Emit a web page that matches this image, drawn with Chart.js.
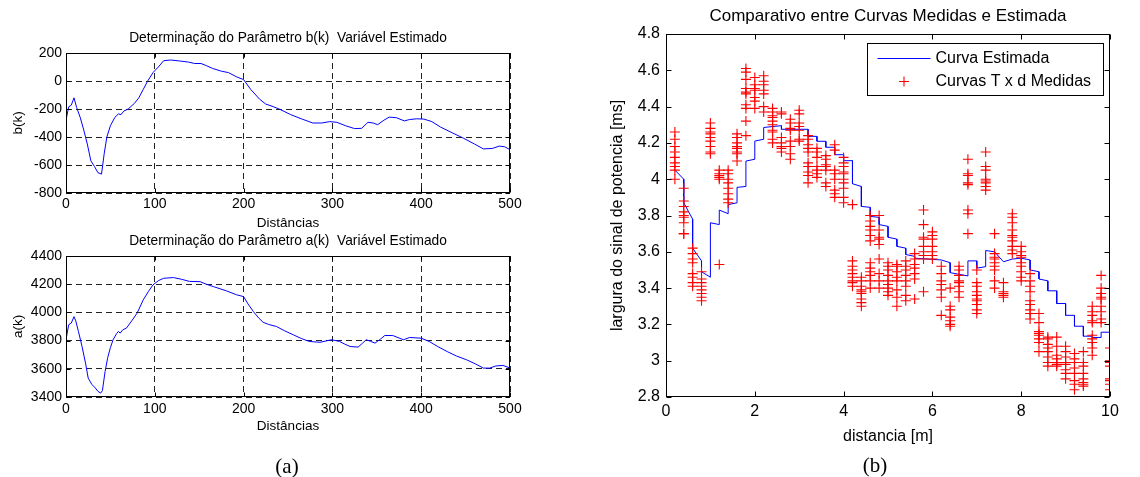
<!DOCTYPE html>
<html>
<head>
<meta charset="utf-8">
<script src="https://cdn.jsdelivr.net/npm/chart.js@4.4.0/dist/chart.umd.min.js"></script>
<style>
body { margin: 0; background: #fff; }
#wrap { position: relative; width: 1140px; height: 477px; overflow: hidden; }
#wrap canvas { position: absolute; left: 0; top: 0; }
.cap { position: absolute; width: 100px; text-align: center; font-family: "Liberation Serif", "Times New Roman", serif; font-size: 21px; line-height: 24px; color: #000; }
</style>
</head>
<body>
<div id="wrap">
  <canvas id="chartB" width="1140" height="477"></canvas>
  <canvas id="chartA" width="1140" height="477"></canvas>
  <canvas id="chartM" width="1140" height="477"></canvas>
  <div class="cap" style="left:237px;top:454px">(a)</div>
  <div class="cap" style="left:825px;top:453px">(b)</div>
</div>
<script>
// tick labels
const distTicks = [0, 100, 200, 300, 400, 500];
const bTicks = [-800, -600, -400, -200, 0, 200];
const aTicks = [3400, 3600, 3800, 4000, 4200, 4400];
const mTicksX = [0, 2, 4, 6, 8, 10];
const mTicksY = [2.8, 3, 3.2, 3.4, 3.6, 3.8, 4, 4.2, 4.4, 4.6, 4.8];

// b(k) estimate
const bDist = [0, 3, 6, 9, 12, 16, 20, 24, 28, 32, 36, 40, 43, 46, 50, 55, 59, 62, 65, 70, 77, 82, 87, 92, 98, 104, 110, 118, 128, 138, 145, 152, 158, 165, 175, 183, 192, 200, 208, 218, 225, 232, 240, 253, 265, 278, 288, 297, 305, 315, 325, 333, 340, 346, 351, 358, 364, 372, 381, 387, 395, 403, 412, 422, 435, 448, 460, 470, 480, 488, 494, 500];
const bVals = [-280, -185, -172, -120, -190, -260, -350, -450, -570, -610, -655, -665, -520, -400, -320, -260, -235, -240, -215, -200, -160, -120, -60, 0, 60, 100, 145, 150, 143, 135, 125, 125, 110, 90, 70, 60, 30, 10, -60, -130, -165, -180, -200, -240, -270, -300, -300, -290, -295, -320, -340, -338, -295, -300, -312, -280, -258, -262, -285, -275, -270, -272, -290, -330, -370, -410, -450, -485, -482, -465, -470, -490];

// a(k) estimate
const aDist = [0, 3, 6, 9, 11, 14, 18, 22, 25, 29, 33, 36, 39, 41, 44, 47, 50, 53, 57, 59, 61, 64, 68, 74, 80, 87, 93, 98, 104, 110, 121, 130, 139, 151, 158, 166, 181, 192, 200, 205, 211, 217, 222, 228, 237, 246, 256, 265, 274, 286, 299, 308, 314, 320, 329, 334, 338, 343, 348, 354, 359, 368, 380, 387, 400, 409, 418, 430, 440, 451, 461, 470, 477, 484, 492, 500];
const aVals = [3806, 3912, 3925, 3970, 3940, 3865, 3760, 3640, 3534, 3490, 3464, 3440, 3428, 3445, 3580, 3680, 3750, 3806, 3850, 3865, 3853, 3877, 3888, 3940, 3994, 4089, 4150, 4195, 4225, 4242, 4247, 4235, 4220, 4218, 4200, 4183, 4152, 4125, 4112, 4060, 4006, 3960, 3930, 3915, 3900, 3870, 3841, 3815, 3794, 3788, 3806, 3794, 3775, 3758, 3754, 3782, 3806, 3795, 3782, 3810, 3836, 3836, 3806, 3822, 3817, 3794, 3760, 3720, 3690, 3664, 3635, 3605, 3605, 3620, 3624, 3606];

// measured T x d points, one list per distance
const measDist = [0.2, 0.4, 0.6, 0.8, 1.0, 1.2, 1.4, 1.6, 1.8, 2.0, 2.2, 2.4, 2.6, 2.8, 3.0, 3.2, 3.4, 3.6, 3.8, 4.0, 4.2, 4.4, 4.6, 4.8, 5.0, 5.2, 5.4, 5.6, 5.8, 6.0, 6.2, 6.4, 6.6, 6.8, 7.0, 7.2, 7.4, 7.6, 7.8, 8.0, 8.2, 8.4, 8.6, 8.8, 9.0, 9.2, 9.4, 9.6, 9.8, 10.0];
const measVals = [
  [4.26, 4.22, 4.18, 4.15, 4.12, 4.09, 4.07, 4.05, 4.0],
  [3.95, 3.88, 3.85, 3.82, 3.80, 3.79, 3.76, 3.70, 3.70],
  [3.62, 3.59, 3.56, 3.54, 3.48, 3.46, 3.43, 3.41],
  [3.49, 3.45, 3.43, 3.41, 3.39, 3.37, 3.35, 3.33],
  [4.31, 4.28, 4.26, 4.25, 4.23, 4.21, 4.18, 4.15, 4.14],
  [4.05, 4.03, 4.02, 4.01, 4.0, 3.53],
  [4.05, 4.03, 4.0, 3.98, 3.95, 3.92, 3.89, 3.87],
  [4.25, 4.23, 4.2, 4.18, 4.17, 4.15, 4.14, 4.1],
  [4.61, 4.59, 4.55, 4.5, 4.48, 4.47, 4.41, 4.39, 4.32, 4.24],
  [4.56, 4.52, 4.5, 4.49, 4.45, 4.43, 4.39],
  [4.57, 4.54, 4.52, 4.49, 4.47, 4.4, 4.37],
  [4.39, 4.37, 4.35, 4.34, 4.32, 4.3, 4.27, 4.26, 4.22, 4.2],
  [4.37, 4.36, 4.23, 4.2, 4.18, 4.17, 4.15],
  [4.33, 4.31, 4.28, 4.27, 4.21, 4.18, 4.14, 4.11],
  [4.38, 4.36, 4.31, 4.29, 4.27, 4.22, 4.21],
  [4.24, 4.22, 4.19, 4.17, 4.15, 4.09, 4.07, 4.04, 4.02, 3.98],
  [4.17, 4.15, 4.12, 4.07, 4.05, 4.03, 4.01],
  [4.13, 4.11, 4.08, 4.07, 4.05, 3.98, 3.96],
  [4.19, 4.16, 4.05, 4.03, 4.0, 3.94, 3.92, 3.9],
  [4.12, 4.09, 4.07, 4.04, 4.03, 4.0, 3.98, 3.95, 3.9, 3.87],
  [3.86, 3.55, 3.52, 3.5, 3.48, 3.46, 3.44, 3.43, 3.41],
  [3.46, 3.44, 3.41, 3.39, 3.38, 3.37, 3.34, 3.32, 3.3],
  [3.8, 3.77, 3.74, 3.72, 3.69, 3.66, 3.54, 3.51, 3.49, 3.47, 3.44, 3.4],
  [3.8, 3.72, 3.68, 3.67, 3.64, 3.56, 3.48, 3.44, 3.4],
  [3.54, 3.52, 3.5, 3.47, 3.44, 3.42, 3.4, 3.38, 3.36],
  [3.53, 3.52, 3.49, 3.46, 3.44, 3.39, 3.35, 3.3],
  [3.55, 3.52, 3.5, 3.47, 3.44, 3.41, 3.36, 3.33],
  [3.59, 3.56, 3.53, 3.51, 3.48, 3.45, 3.34],
  [3.83, 3.75, 3.68, 3.67, 3.63, 3.6, 3.58, 3.56, 3.38],
  [3.71, 3.69, 3.67, 3.63, 3.6, 3.58, 3.56],
  [3.52, 3.48, 3.44, 3.42, 3.39, 3.35, 3.25],
  [3.4, 3.3, 3.28, 3.24, 3.22, 3.2, 3.19],
  [3.52, 3.5, 3.47, 3.44, 3.43, 3.41, 3.38, 3.35],
  [4.11, 4.03, 4.02, 3.98, 3.97, 3.83, 3.81, 3.7],
  [3.5, 3.43, 3.41, 3.38, 3.36, 3.34, 3.33, 3.31, 3.28, 3.26],
  [4.15, 4.07, 4.05, 4.0, 3.99, 3.98, 3.96, 3.94],
  [3.7, 3.59, 3.57, 3.56, 3.54, 3.52, 3.5, 3.44, 3.4],
  [3.43, 3.38, 3.37, 3.36, 3.35],
  [3.81, 3.79, 3.76, 3.72, 3.69, 3.68, 3.66, 3.63, 3.61, 3.59],
  [3.63, 3.6, 3.58, 3.57, 3.54, 3.52, 3.49, 3.46, 3.44],
  [3.48, 3.44, 3.41, 3.38, 3.33, 3.31, 3.28, 3.26, 3.23],
  [3.26, 3.21, 3.16, 3.15, 3.14, 3.12, 3.1, 3.05],
  [3.13, 3.12, 3.09, 3.07, 3.05, 3.02, 2.99, 2.97],
  [3.13, 3.08, 3.03, 3.01, 2.99, 2.98, 2.97],
  [3.08, 3.05, 3.02, 2.99, 2.98, 2.95, 2.93, 2.9],
  [3.04, 3.01, 2.99, 2.96, 2.93, 2.89, 2.87, 2.84],
  [3.05, 2.99, 2.97, 2.93, 2.9, 2.88, 2.87, 2.86],
  [3.3, 3.27, 3.25, 3.22, 3.21, 3.14, 3.12, 3.1, 3.07, 3.03],
  [3.47, 3.4, 3.37, 3.35, 3.34, 3.3, 3.27, 3.23, 3.21],
  [3.07, 3.0, 2.99, 2.97, 2.9, 2.89, 2.87, 2.84, 2.8]
];

// estimated curve (vertices of the stepped line)
const curveDist = [0.2, 0.4, 0.4, 0.6, 0.6, 0.8, 0.8, 1.0, 1.0, 1.2, 1.2, 1.4, 1.4, 1.6, 1.6, 1.8, 1.8, 2.0, 2.0, 2.2, 2.2, 2.4, 2.6, 2.6, 3.2, 3.2, 3.4, 3.4, 3.6, 3.6, 3.8, 3.8, 4.0, 4.0, 4.2, 4.2, 4.4, 4.4, 4.6, 4.6, 4.8, 4.8, 5.0, 5.0, 5.2, 5.2, 5.4, 5.4, 5.6, 5.6, 6.2, 6.4, 6.4, 6.8, 6.8, 7.0, 7.0, 7.2, 7.2, 7.4, 7.6, 7.8, 8.0, 8.2, 8.2, 8.4, 8.4, 8.6, 8.6, 8.8, 8.8, 9.0, 9.0, 9.2, 9.2, 9.4, 9.4, 9.6, 9.6, 9.8, 9.8, 10.0, 10.0];
const curveVals = [4.05, 4.00, 3.87, 3.78, 3.62, 3.55, 3.49, 3.46, 3.76, 3.75, 3.83, 3.81, 3.86, 3.87, 3.955, 3.96, 4.10, 4.11, 4.21, 4.22, 4.285, 4.29, 4.295, 4.275, 4.275, 4.236, 4.236, 4.209, 4.209, 4.176, 4.176, 4.135, 4.135, 4.102, 4.102, 3.975, 3.96, 3.85, 3.845, 3.795, 3.79, 3.75, 3.74, 3.68, 3.67, 3.63, 3.62, 3.585, 3.575, 3.565, 3.555, 3.54, 3.485, 3.467, 3.55, 3.55, 3.51, 3.518, 3.607, 3.60, 3.545, 3.56, 3.565, 3.555, 3.50, 3.49, 3.45, 3.44, 3.385, 3.385, 3.315, 3.315, 3.25, 3.25, 3.19, 3.19, 3.135, 3.135, 3.128, 3.128, 3.157, 3.157, 3.114];

Chart.defaults.font.family = "'Liberation Sans', Arial, sans-serif";
Chart.defaults.color = '#000';

function zip(xs, ys) {
  return xs.map((x, i) => ({ x: x, y: ys[i] }));
}
function useTicks(list) {
  return function(scale) { scale.ticks = list.map(v => ({ value: v })); };
}

// box round the plot area with inward tick marks
const frame = {
  id: 'frame',
  afterDatasetsDraw(chart, args, opts) {
    const { ctx, chartArea: a, scales } = chart;
    const L = Math.round(a.left) + 0.5, R = Math.round(a.right) - 0.5;
    const T = Math.round(a.top) + 0.5, B = Math.round(a.bottom) - 0.5;
    const len = opts.len || 4;
    ctx.save();
    ctx.strokeStyle = '#000';
    ctx.lineWidth = 1;
    ctx.setLineDash([]);
    ctx.beginPath();
    scales.x.ticks.forEach(t => {
      const px = Math.round(scales.x.getPixelForValue(t.value)) + 0.5;
      ctx.moveTo(px, B); ctx.lineTo(px, B - len);
      ctx.moveTo(px, T); ctx.lineTo(px, T + len);
    });
    scales.y.ticks.forEach(t => {
      const py = Math.round(scales.y.getPixelForValue(t.value)) + 0.5;
      ctx.moveTo(L, py); ctx.lineTo(L + len, py);
      ctx.moveTo(R, py); ctx.lineTo(R - len, py);
    });
    ctx.stroke();
    ctx.strokeRect(L, T, R - L, B - T);
    ctx.restore();
  }
};

function lineChart(id, xs, ys, yTicks, titleText, yLabel, pad, titleBottom, xHeight, xTickPad) {
  new Chart(document.getElementById(id), {
    type: 'scatter',
    data: {
      datasets: [{
        data: zip(xs, ys),
        showLine: true,
        borderColor: '#0000ff',
        borderWidth: 1,
        pointRadius: 0,
        tension: 0
      }]
    },
    options: {
      responsive: false,
      animation: false,
      devicePixelRatio: 1,
      events: [],
      layout: { padding: pad },
      plugins: {
        legend: { display: false },
        tooltip: { enabled: false },
        title: {
          display: true,
          text: titleText,
          fullSize: false,
          font: { size: 13.75, weight: 'normal' },
          padding: { top: 0, bottom: titleBottom }
        },
        frame: { len: 4 }
      },
      scales: {
        x: {
          type: 'linear', min: 0, max: 500,
          afterBuildTicks: useTicks(distTicks),
          afterFit: s => { s.height = xHeight; },
          grid: { color: '#222', lineWidth: 1, drawTicks: false },
          border: { display: false, dash: [6, 4] },
          ticks: { padding: xTickPad, font: { size: 14 }, autoSkip: false, maxRotation: 0, callback: v => String(v) },
          title: { display: true, text: 'Distâncias', font: { size: 13.5 }, padding: { top: 0, bottom: 0 } }
        },
        y: {
          type: 'linear', min: yTicks[0], max: yTicks[yTicks.length - 1],
          afterBuildTicks: useTicks(yTicks),
          afterFit: s => { s.width = 66; },
          grid: { color: '#222', lineWidth: 1, drawTicks: false },
          border: { display: false, dash: [6, 4] },
          ticks: { padding: 4, font: { size: 14 }, autoSkip: false, callback: v => String(v) },
          title: { display: true, text: yLabel, font: { size: 13.5 }, padding: { top: 10, bottom: 0 } }
        }
      }
    },
    plugins: [frame]
  });
}

lineChart('chartB', bDist, bVals, bTicks, 'Determinação do Parâmetro b(k)  Variável Estimado', 'b(k)',
  { left: 0, right: 630, top: 30.25, bottom: 246 }, 6.25, 38, 3);
lineChart('chartA', aDist, aVals, aTicks, 'Determinação do Parâmetro a(k)  Variável Estimado', 'a(k)',
  { left: 0, right: 630, top: 232.75, bottom: 42.5 }, 6.75, 37.5, 3.5);

// legend drawn inside the plot area, top right
const legendBox = {
  id: 'legendBox',
  afterDraw(chart) {
    const { ctx, chartArea: a } = chart;
    const w = 236, h = 52;
    const bx = Math.round(a.right - 7 - w) + 0.5, by = Math.round(a.top + 9) + 0.5;
    ctx.save();
    ctx.fillStyle = '#fff';
    ctx.fillRect(bx, by, w, h);
    ctx.strokeStyle = '#000';
    ctx.lineWidth = 1;
    ctx.strokeRect(bx, by, w, h);
    ctx.strokeStyle = '#0000ff';
    ctx.beginPath();
    ctx.moveTo(bx + 10, by + 15);
    ctx.lineTo(bx + 63, by + 15);
    ctx.stroke();
    ctx.strokeStyle = '#ff0000';
    ctx.lineWidth = 1.1;
    ctx.beginPath();
    ctx.moveTo(bx + 31.5, by + 38); ctx.lineTo(bx + 41.5, by + 38);
    ctx.moveTo(bx + 36.5, by + 33); ctx.lineTo(bx + 36.5, by + 43);
    ctx.stroke();
    ctx.fillStyle = '#000';
    ctx.font = "16px 'Liberation Sans', Arial, sans-serif";
    ctx.textBaseline = 'middle';
    ctx.fillText('Curva Estimada', bx + 68, by + 15);
    ctx.fillText('Curvas T x d Medidas', bx + 68, by + 38);
    ctx.restore();
  }
};

const measured = [];
measDist.forEach((d, i) => measVals[i].forEach(v => measured.push({ x: d, y: v })));

new Chart(document.getElementById('chartM'), {
  type: 'scatter',
  data: {
    datasets: [
      {
        label: 'Curvas T x d Medidas',
        data: measured,
        pointStyle: 'cross',
        pointRadius: 5,
        pointBorderWidth: 1.1,
        pointBorderColor: '#ff0000',
        pointBackgroundColor: '#ff0000'
      },
      {
        label: 'Curva Estimada',
        data: zip(curveDist, curveVals),
        showLine: true,
        borderColor: '#0000ff',
        borderWidth: 1,
        pointRadius: 0,
        tension: 0
      }
    ]
  },
  options: {
    responsive: false,
    animation: false,
    devicePixelRatio: 1,
    events: [],
    layout: { padding: { left: 606, right: 30, top: 6.5, bottom: 30.7 } },
    plugins: {
      legend: { display: false },
      tooltip: { enabled: false },
      title: {
        display: true,
        text: 'Comparativo entre Curvas Medidas e Estimada',
        fullSize: false,
        font: { size: 17, weight: 'normal' },
        padding: { top: 0, bottom: 7.1 }
      },
      frame: { len: 5 }
    },
    scales: {
      x: {
        type: 'linear', min: 0, max: 10,
        afterBuildTicks: useTicks(mTicksX),
        afterFit: s => { s.height = 49.3; },
        grid: { display: false, drawTicks: false },
        border: { display: false },
        ticks: { padding: 5, font: { size: 16 }, autoSkip: false, maxRotation: 0, callback: v => String(v) },
        title: { display: true, text: 'distancia [m]', font: { size: 16 }, padding: { top: 0, bottom: 0 } }
      },
      y: {
        type: 'linear', min: 2.8, max: 4.8,
        afterBuildTicks: useTicks(mTicksY),
        afterFit: s => { s.width = 60; },
        grid: { display: false, drawTicks: false },
        border: { display: false },
        ticks: { padding: 6, font: { size: 16 }, autoSkip: false, callback: v => String(v) },
        title: { display: true, text: 'largura do sinal de potencia [ms]', font: { size: 16 }, padding: { top: 2.4, bottom: 0 } }
      }
    }
  },
  plugins: [frame, legendBox]
});
</script>
</body>
</html>
